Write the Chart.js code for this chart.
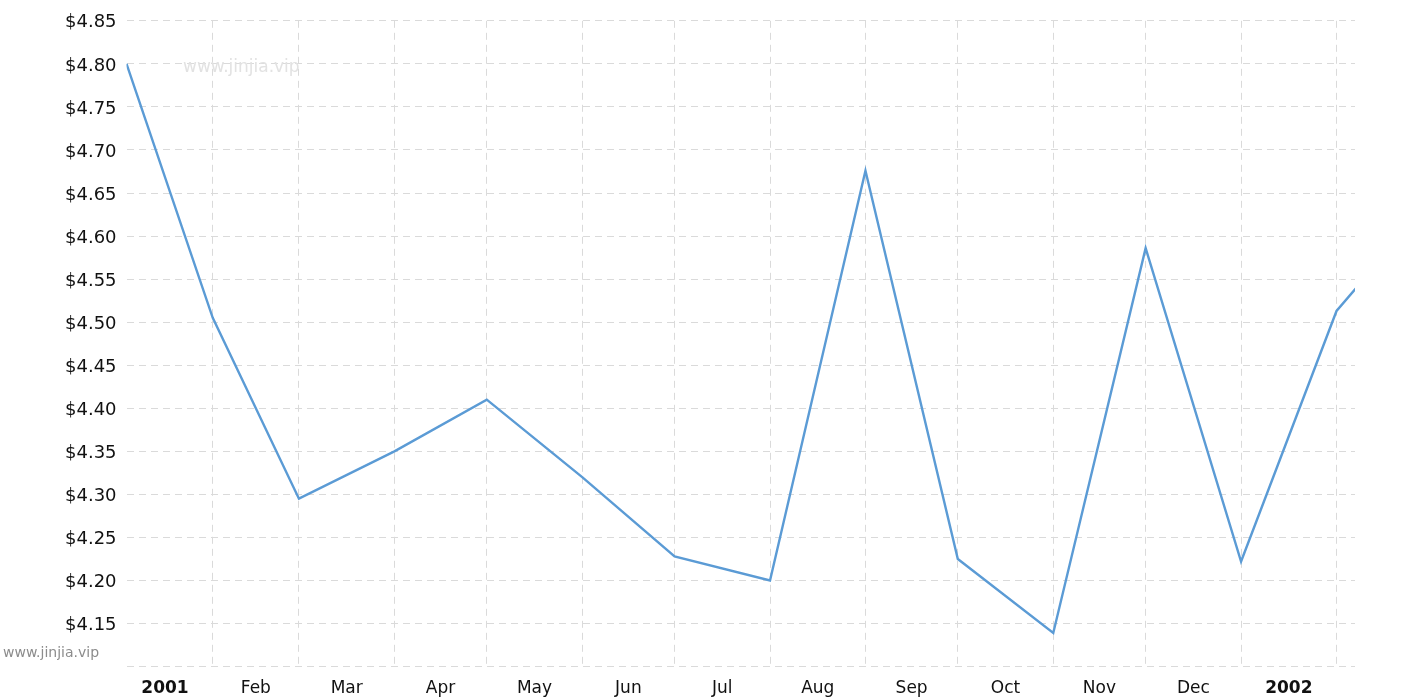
<!DOCTYPE html>
<html>
<head>
<meta charset="utf-8">
<script src="https://cdn.jsdelivr.net/npm/chart.js@4/dist/chart.umd.min.js"></script>
<style>
  html, body { margin: 0; padding: 0; background: #fff; }
  #wrap { position: relative; width: 1415px; height: 700px; }
  .wm { position: absolute; white-space: nowrap; pointer-events: none; }
  #wmTop { left: 183px; top: 56px; font: 17px "DejaVu Sans", sans-serif; color: #e2e2e2; }
  #wmBottom { left: 3px; top: 644px; font: 14px "DejaVu Sans", sans-serif; color: #8c8c8c; }
</style>
</head>
<body>
<div id="wrap">
  <canvas id="priceChart"></canvas>
  <div class="wm" id="wmTop">www.jinjia.vip</div>
  <div class="wm" id="wmBottom">www.jinjia.vip</div>
</div>
<script>
// monthly prices, first point sits on the left edge of the axis
const priceDates = ['2001-01-04', '2001-02-01', '2001-03-01', '2001-04-01', '2001-05-01', '2001-06-01',
  '2001-07-01', '2001-08-01', '2001-09-01', '2001-10-01', '2001-11-01', '2001-12-01',
  '2002-01-01', '2002-02-01', '2002-03-01']
const prices = [4.80, 4.505, 4.295, 4.35, 4.41, 4.32, 4.228, 4.20, 4.676, 4.225, 4.139, 4.586, 4.222, 4.513, 4.63]

// x labels, one per month (years in bold)
const labelMonths = ['2001-01', '2001-02', '2001-03', '2001-04', '2001-05', '2001-06', '2001-07',
  '2001-08', '2001-09', '2001-10', '2001-11', '2001-12', '2002-01']
const monthLabels = ['2001', 'Feb', 'Mar', 'Apr', 'May', 'Jun', 'Jul', 'Aug', 'Sep', 'Oct', 'Nov', 'Dec', '2002']

const xStart = '2001-01-04'
const xEnd = '2002-02-07'
const yMin = 4.10
const yMax = 4.85
const yStep = 0.05

function dayOf(s) {
  var p = s.split('-').map(Number)
  return (Date.UTC(p[0], p[1] - 1, p[2] || 1) - Date.UTC(2001, 0, 1)) / 86400000
}
function nextMonth(m) {
  var p = m.split('-').map(Number)
  var y = p[0], mo = p[1] + 1
  if (mo > 12) { y++; mo = 1 }
  return y + '-' + String(mo).padStart(2, '0')
}

var xMin = dayOf(xStart), xMax = dayOf(xEnd)
var gridDays = []
var labelAt = {}
labelMonths.forEach(function (m, i) {
  var a = dayOf(m), b = dayOf(nextMonth(m))
  gridDays.push(a, b)
  labelAt[(a + b) / 2] = { text: monthLabels[i], bold: /^\d{4}$/.test(monthLabels[i]) }
})
gridDays = gridDays.filter(function (d, i, arr) { return arr.indexOf(d) === i && d > xMin && d <= xMax })

var points = priceDates.map(function (d, i) { return { x: dayOf(d), y: prices[i] } })

var ctx = document.getElementById('priceChart').getContext('2d')
new Chart(ctx, {
  type: 'line',
  data: {
    datasets: [{
      data: points,
      borderColor: '#5b9bd5',
      borderWidth: 2.4,
      pointRadius: 0,
      pointHoverRadius: 0,
      tension: 0,
      fill: false,
      clip: 0
    }]
  },
  options: {
    responsive: true,
    maintainAspectRatio: false,
    animation: false,
    layout: { padding: { left: 55, right: 60, top: 14, bottom: -11 } },
    plugins: { legend: { display: false }, tooltip: { enabled: false } },
    scales: {
      x: {
        type: 'linear',
        min: xMin,
        max: xMax,
        afterBuildTicks: function (axis) {
          var vals = gridDays.concat(Object.keys(labelAt).map(Number))
          vals.sort(function (a, b) { return a - b })
          axis.ticks = vals.filter(function (v) { return v >= xMin && v <= xMax }).map(function (v) { return { value: v } })
        },
        grid: {
          drawTicks: false,
          color: function (c) { return c.tick && labelAt[c.tick.value] ? 'rgba(0,0,0,0)' : '#dadada' },
          lineWidth: 1
        },
        border: { display: false, dash: [7, 5] },
        ticks: {
          autoSkip: false,
          maxRotation: 0,
          padding: 12,
          color: '#111',
          font: function (c) {
            var l = c.tick && labelAt[c.tick.value]
            return { family: 'DejaVu Sans', size: 17, weight: l && l.bold ? 'bold' : 'normal' }
          },
          callback: function (v) { return labelAt[v] ? labelAt[v].text : '' }
        }
      },
      y: {
        min: yMin,
        max: yMax,
        grid: { drawTicks: false, color: '#dadada', lineWidth: 1 },
        border: { display: false, dash: [7, 5] },
        ticks: {
          stepSize: yStep,
          padding: 10,
          labelOffset: 2,
          color: '#111',
          font: { family: 'DejaVu Sans', size: 18 },
          callback: function (v) { return v < yMin + 0.01 ? '' : '$' + v.toFixed(2) }
        }
      }
    }
  }
})
</script>
</body>
</html>
